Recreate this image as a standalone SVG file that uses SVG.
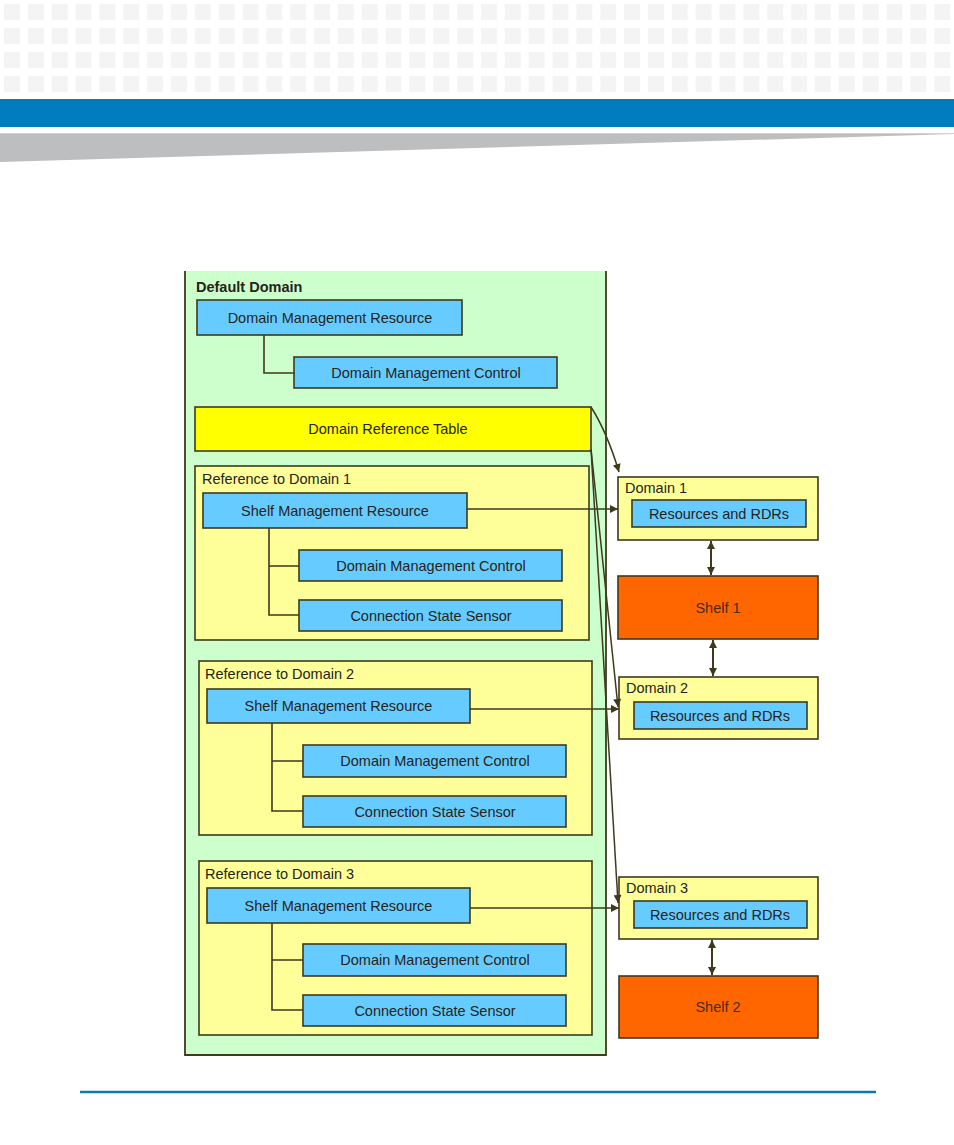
<svg xmlns="http://www.w3.org/2000/svg" width="954" height="1145" viewBox="0 0 954 1145">
<style>
text{font-family:"Liberation Sans",Arial,sans-serif;font-size:14.5px;fill:#26241a}
.c{text-anchor:middle}
.b{font-weight:bold}
.blue{fill:#66ccff;stroke:#3d3a1e;stroke-width:1.6}
.ref{fill:#ffff99;stroke:#3d3a1e;stroke-width:1.6}
.shelf{fill:#ff6600;stroke:#3d3a1e;stroke-width:1.6}
.shelf-t{fill:#4a2a10}
.con{fill:none;stroke:#3d3a1e;stroke-width:1.6}
.arr{fill:none;stroke:#3d3a1e;stroke-width:1.5;marker-end:url(#ah)}
.darr{fill:none;stroke:#3d3a1e;stroke-width:2;marker-end:url(#ah);marker-start:url(#ah)}
</style>
<defs>
<pattern id="sq" x="4" y="4" width="23.85" height="24" patternUnits="userSpaceOnUse">
<rect x="0" y="0" width="16" height="16" fill="#f4f4f4"/>
</pattern>
<marker id="ah" viewBox="0 0 10 10" refX="10" refY="5" markerWidth="9" markerHeight="8" markerUnits="userSpaceOnUse" orient="auto-start-reverse">
<path d="M0,0 L10,5 L0,10 z" fill="#3d3a1e"/>
</marker>
</defs>
<rect width="954" height="1145" fill="#ffffff"/>
<g id="header">
<rect x="0" y="4" width="952" height="88" fill="url(#sq)"/>
<rect x="0" y="99" width="954" height="28" fill="#017dbf"/>
<polygon points="0,133 954,133 954,134 0,162" fill="#bdbec0"/>
<line x1="0" y1="133.5" x2="954" y2="133.5" stroke="#d2d3d4" stroke-width="1"/>
</g>
<g id="footer">
<line x1="80" y1="1092" x2="876" y2="1092" stroke="#0a7ab5" stroke-width="2.5"/>
</g>
<g id="default-domain">
<rect x="185" y="271" width="421" height="784" fill="#ccffcc"/>
<path d="M185,271 V1055 H606 V271" fill="none" stroke="#3d3a1e" stroke-width="1.8"/>
<text class="b" x="196" y="292">Default Domain</text>
</g>
<g id="dmr">
<rect class="blue" x="197" y="300" width="265" height="35"/>
<text class="c" x="330" y="322.5">Domain Management Resource</text>
</g>
<g id="dmc0">
<rect class="blue" x="294" y="357" width="263" height="31"/>
<text class="c" x="426" y="377.5">Domain Management Control</text>
</g>
<g id="drt">
<rect x="195" y="407" width="396" height="44" fill="#ffff00" stroke="#3d3a1e" stroke-width="1.6"/>
<text class="c" x="388" y="434">Domain Reference Table</text>
</g>
<g id="ref1">
<rect class="ref" x="195" y="466" width="394" height="174"/>
<text x="202" y="484">Reference to Domain 1</text>
</g>
<g id="smr1">
<rect class="blue" x="203" y="493" width="264" height="35"/>
<text class="c" x="335" y="515.5">Shelf Management Resource</text>
</g>
<g id="dmc1">
<rect class="blue" x="299" y="550" width="263" height="31"/>
<text class="c" x="431" y="570.5">Domain Management Control</text>
</g>
<g id="css1">
<rect class="blue" x="299" y="600" width="263" height="31"/>
<text class="c" x="431" y="620.5">Connection State Sensor</text>
</g>
<g id="ref2">
<rect class="ref" x="199" y="661" width="393" height="174"/>
<text x="205" y="679">Reference to Domain 2</text>
</g>
<g id="smr2">
<rect class="blue" x="207" y="689" width="263" height="34"/>
<text class="c" x="338.5" y="711">Shelf Management Resource</text>
</g>
<g id="dmc2">
<rect class="blue" x="303" y="745" width="263" height="32"/>
<text class="c" x="435" y="766">Domain Management Control</text>
</g>
<g id="css2">
<rect class="blue" x="303" y="796" width="263" height="31"/>
<text class="c" x="435" y="816.5">Connection State Sensor</text>
</g>
<g id="ref3">
<rect class="ref" x="199" y="861" width="393" height="174"/>
<text x="205" y="879">Reference to Domain 3</text>
</g>
<g id="smr3">
<rect class="blue" x="207" y="888" width="263" height="35"/>
<text class="c" x="338.5" y="910.5">Shelf Management Resource</text>
</g>
<g id="dmc3">
<rect class="blue" x="303" y="944" width="263" height="32"/>
<text class="c" x="435" y="965">Domain Management Control</text>
</g>
<g id="css3">
<rect class="blue" x="303" y="995" width="263" height="31"/>
<text class="c" x="435" y="1015.5">Connection State Sensor</text>
</g>
<g id="domain1">
<rect class="ref" x="618" y="477" width="200" height="63"/>
<text x="625" y="493">Domain 1</text>
<rect class="blue" x="632" y="500" width="174" height="27"/>
<text class="c" x="719" y="519">Resources and RDRs</text>
</g>
<g id="shelf1">
<rect class="shelf" x="618" y="576" width="200" height="63"/>
<text class="c shelf-t" x="718" y="613">Shelf 1</text>
</g>
<g id="domain2">
<rect class="ref" x="619" y="677" width="199" height="62"/>
<text x="626" y="693">Domain 2</text>
<rect class="blue" x="634" y="702" width="173" height="27"/>
<text class="c" x="720" y="721">Resources and RDRs</text>
</g>
<g id="domain3">
<rect class="ref" x="619" y="877" width="199" height="62"/>
<text x="626" y="893">Domain 3</text>
<rect class="blue" x="634" y="901" width="173" height="27"/>
<text class="c" x="720" y="920">Resources and RDRs</text>
</g>
<g id="shelf2">
<rect class="shelf" x="619" y="976" width="199" height="62"/>
<text class="c shelf-t" x="718" y="1012">Shelf 2</text>
</g>
<g id="connectors">
<path class="con" d="M264,335 V373 H294"/>
<path class="con" d="M269,528 V615 H299 M269,566 H299"/>
<path class="con" d="M272,723 V811 H303 M272,761 H303"/>
<path class="con" d="M272,923 V1010 H303 M272,960 H303"/>
<path class="arr" d="M467,509 H618"/>
<path class="arr" d="M470,709 H619"/>
<path class="arr" d="M470,908 H619"/>
<path class="arr" d="M591,407 Q607,432 619,472"/>
<path class="arr" d="M591,449 L618,707"/>
<path class="arr" d="M591,449 L618,903"/>
<path class="darr" d="M711,541 V575"/>
<path class="darr" d="M713,640 V676"/>
<path class="darr" d="M712,940 V975"/>
</g>
</svg>
